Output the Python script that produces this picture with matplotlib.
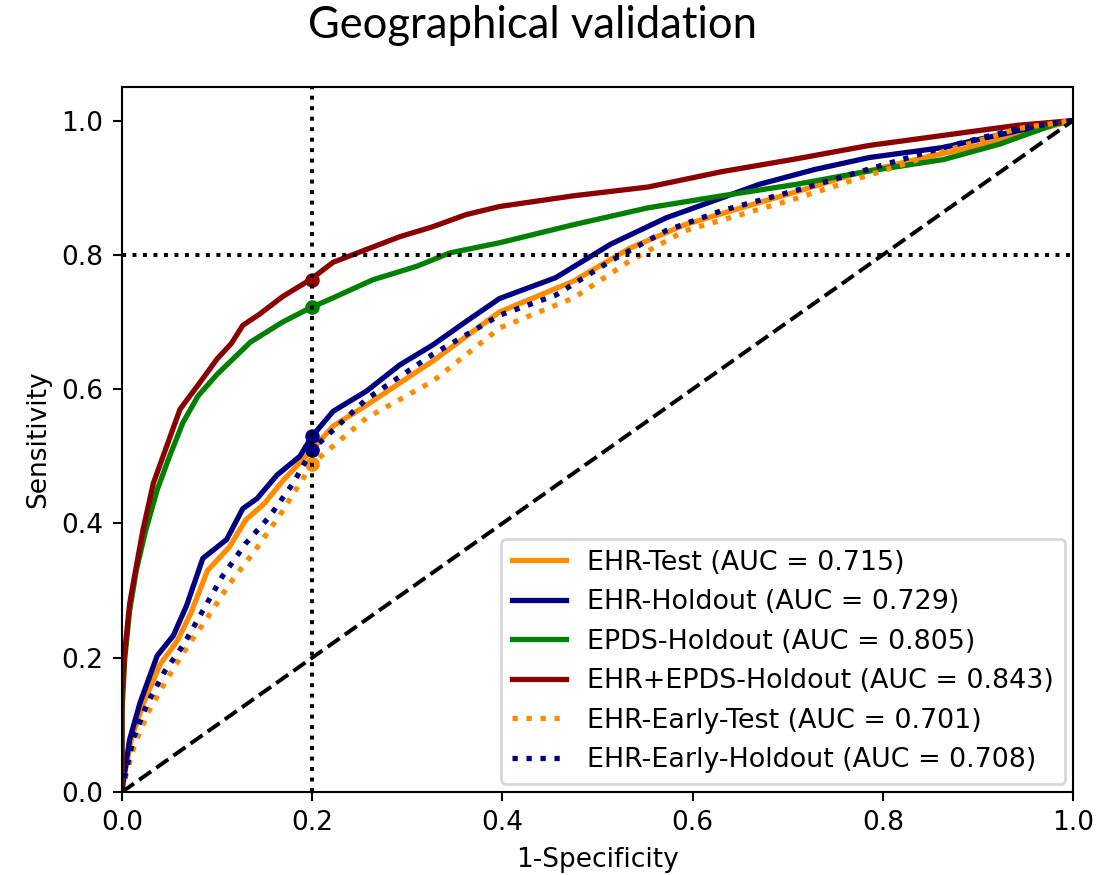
import matplotlib
matplotlib.use("Agg")
import matplotlib.pyplot as plt

# ROC curves (fpr, tpr)
ehr_test_fpr = [0, 0.003, 0.010, 0.022, 0.040, 0.058, 0.072, 0.090, 0.113, 0.130, 0.150, 0.170, 0.200,
                0.222, 0.257, 0.327, 0.397, 0.475, 0.534, 0.592, 0.651, 0.709, 0.767, 0.826, 0.904, 0.962, 1.0]
ehr_test_tpr = [0, 0.030, 0.080, 0.130, 0.190, 0.225, 0.265, 0.330, 0.365, 0.405, 0.430, 0.465, 0.510,
                0.545, 0.576, 0.642, 0.715, 0.761, 0.810, 0.845, 0.870, 0.894, 0.919, 0.939, 0.964, 0.986, 1.0]

ehr_hold_fpr = [0, 0.001, 0.008, 0.019, 0.037, 0.054, 0.068, 0.085, 0.110, 0.127, 0.142, 0.163, 0.187, 0.200,
                0.222, 0.257, 0.292, 0.327, 0.362, 0.397, 0.456, 0.514, 0.572, 0.631, 0.670, 0.728, 0.786,
                0.864, 0.942, 1.0]
ehr_hold_tpr = [0, 0.013, 0.078, 0.133, 0.203, 0.233, 0.278, 0.348, 0.376, 0.422, 0.437, 0.472, 0.500, 0.530,
                0.567, 0.597, 0.636, 0.666, 0.701, 0.735, 0.766, 0.816, 0.855, 0.885, 0.905, 0.927, 0.945,
                0.960, 0.985, 1.0]

epds_fpr = [0, 0, 0.003, 0.008, 0.015, 0.025, 0.037, 0.050, 0.064, 0.080, 0.100, 0.135, 0.169, 0.198,
            0.222, 0.264, 0.310, 0.345, 0.397, 0.475, 0.553, 0.631, 0.709, 0.786, 0.864, 0.923, 0.982, 1.0]
epds_tpr = [0, 0.120, 0.200, 0.270, 0.330, 0.390, 0.450, 0.500, 0.550, 0.590, 0.622, 0.670, 0.700, 0.721,
            0.736, 0.763, 0.783, 0.803, 0.818, 0.845, 0.870, 0.888, 0.905, 0.925, 0.942, 0.965, 0.995, 1.0]

comb_fpr = [0, 0, 0.003, 0.008, 0.013, 0.022, 0.033, 0.047, 0.061, 0.082, 0.100, 0.115, 0.127, 0.145, 0.169,
            0.198, 0.222, 0.257, 0.292, 0.327, 0.362, 0.397, 0.475, 0.553, 0.631, 0.709, 0.786, 0.864,
            0.942, 1.0]
comb_tpr = [0, 0.150, 0.210, 0.280, 0.320, 0.390, 0.460, 0.515, 0.570, 0.610, 0.645, 0.668, 0.695, 0.712, 0.738,
            0.763, 0.789, 0.808, 0.827, 0.842, 0.860, 0.872, 0.888, 0.901, 0.924, 0.943, 0.963, 0.978,
            0.993, 1.0]

early_test_fpr = [0, 0.004, 0.013, 0.028, 0.048, 0.068, 0.090, 0.113, 0.140, 0.165, 0.185, 0.200, 0.257,
                  0.327, 0.397, 0.475, 0.534, 0.592, 0.651, 0.709, 0.786, 0.864, 0.942, 1.0]
early_test_tpr = [0, 0.025, 0.070, 0.120, 0.170, 0.215, 0.260, 0.310, 0.360, 0.410, 0.455, 0.489, 0.557,
                  0.612, 0.691, 0.736, 0.791, 0.836, 0.860, 0.884, 0.919, 0.954, 0.988, 1.0]

early_hold_fpr = [0, 0.004, 0.012, 0.026, 0.045, 0.065, 0.085, 0.105, 0.130, 0.155, 0.180, 0.200, 0.257,
                  0.327, 0.397, 0.456, 0.514, 0.572, 0.631, 0.709, 0.786, 0.864, 0.942, 1.0]
early_hold_tpr = [0, 0.030, 0.080, 0.130, 0.180, 0.220, 0.270, 0.320, 0.370, 0.410, 0.460, 0.510, 0.585,
                  0.652, 0.710, 0.740, 0.791, 0.836, 0.866, 0.896, 0.928, 0.960, 0.988, 1.0]

labels = ["EHR-Test (AUC = 0.715)", "EHR-Holdout (AUC = 0.729)", "EPDS-Holdout (AUC = 0.805)",
          "EHR+EPDS-Holdout (AUC = 0.843)", "EHR-Early-Test (AUC = 0.701)", "EHR-Early-Holdout (AUC = 0.708)"]

# sensitivity of each model at 1-specificity = 0.2 (marked points)
cut_fpr = 0.2
cut_sens = [0.510, 0.530, 0.722, 0.763, 0.489, 0.510]

curves = [
    (ehr_test_fpr, ehr_test_tpr, "darkorange", "-"),
    (ehr_hold_fpr, ehr_hold_tpr, "navy", "-"),
    (epds_fpr, epds_tpr, "green", "-"),
    (comb_fpr, comb_tpr, "darkred", "-"),
    (early_test_fpr, early_test_tpr, "darkorange", ":"),
    (early_hold_fpr, early_hold_tpr, "navy", ":"),
]

fig = plt.figure(figsize=(1111 / 190, 875 / 190), dpi=190)
ax = fig.add_axes([122 / 1111, 1 - 792 / 875, (1073 - 122) / 1111, (792 - 87) / 875])

for (fpr, tpr, col, ls), lab, s in zip(curves, labels, cut_sens):
    ax.plot(fpr, tpr, color=col, ls=ls, lw=2, label=lab)
    ax.plot(cut_fpr, s, "o", color=col, ms=4.5)

ax.plot([0, 1], [0, 1], "k--", lw=1.5)
ax.axvline(0.2, color="k", ls=":", lw=1.5)
ax.axhline(0.8, color="k", ls=":", lw=1.5)

ax.set_xlim(0, 1)
ax.set_ylim(0, 1.05)
ax.set_xlabel("1-Specificity")
ax.set_ylabel("Sensitivity")
ax.legend(loc="lower right", borderaxespad=0.3, fontsize=10.2)

fig.text(533 / 1111, 1 - 38 / 875, "Geographical validation", ha="center", va="baseline",
         fontsize=16.5, family=["Lato", "DejaVu Sans"])

fig.savefig("out.png", dpi=190)
